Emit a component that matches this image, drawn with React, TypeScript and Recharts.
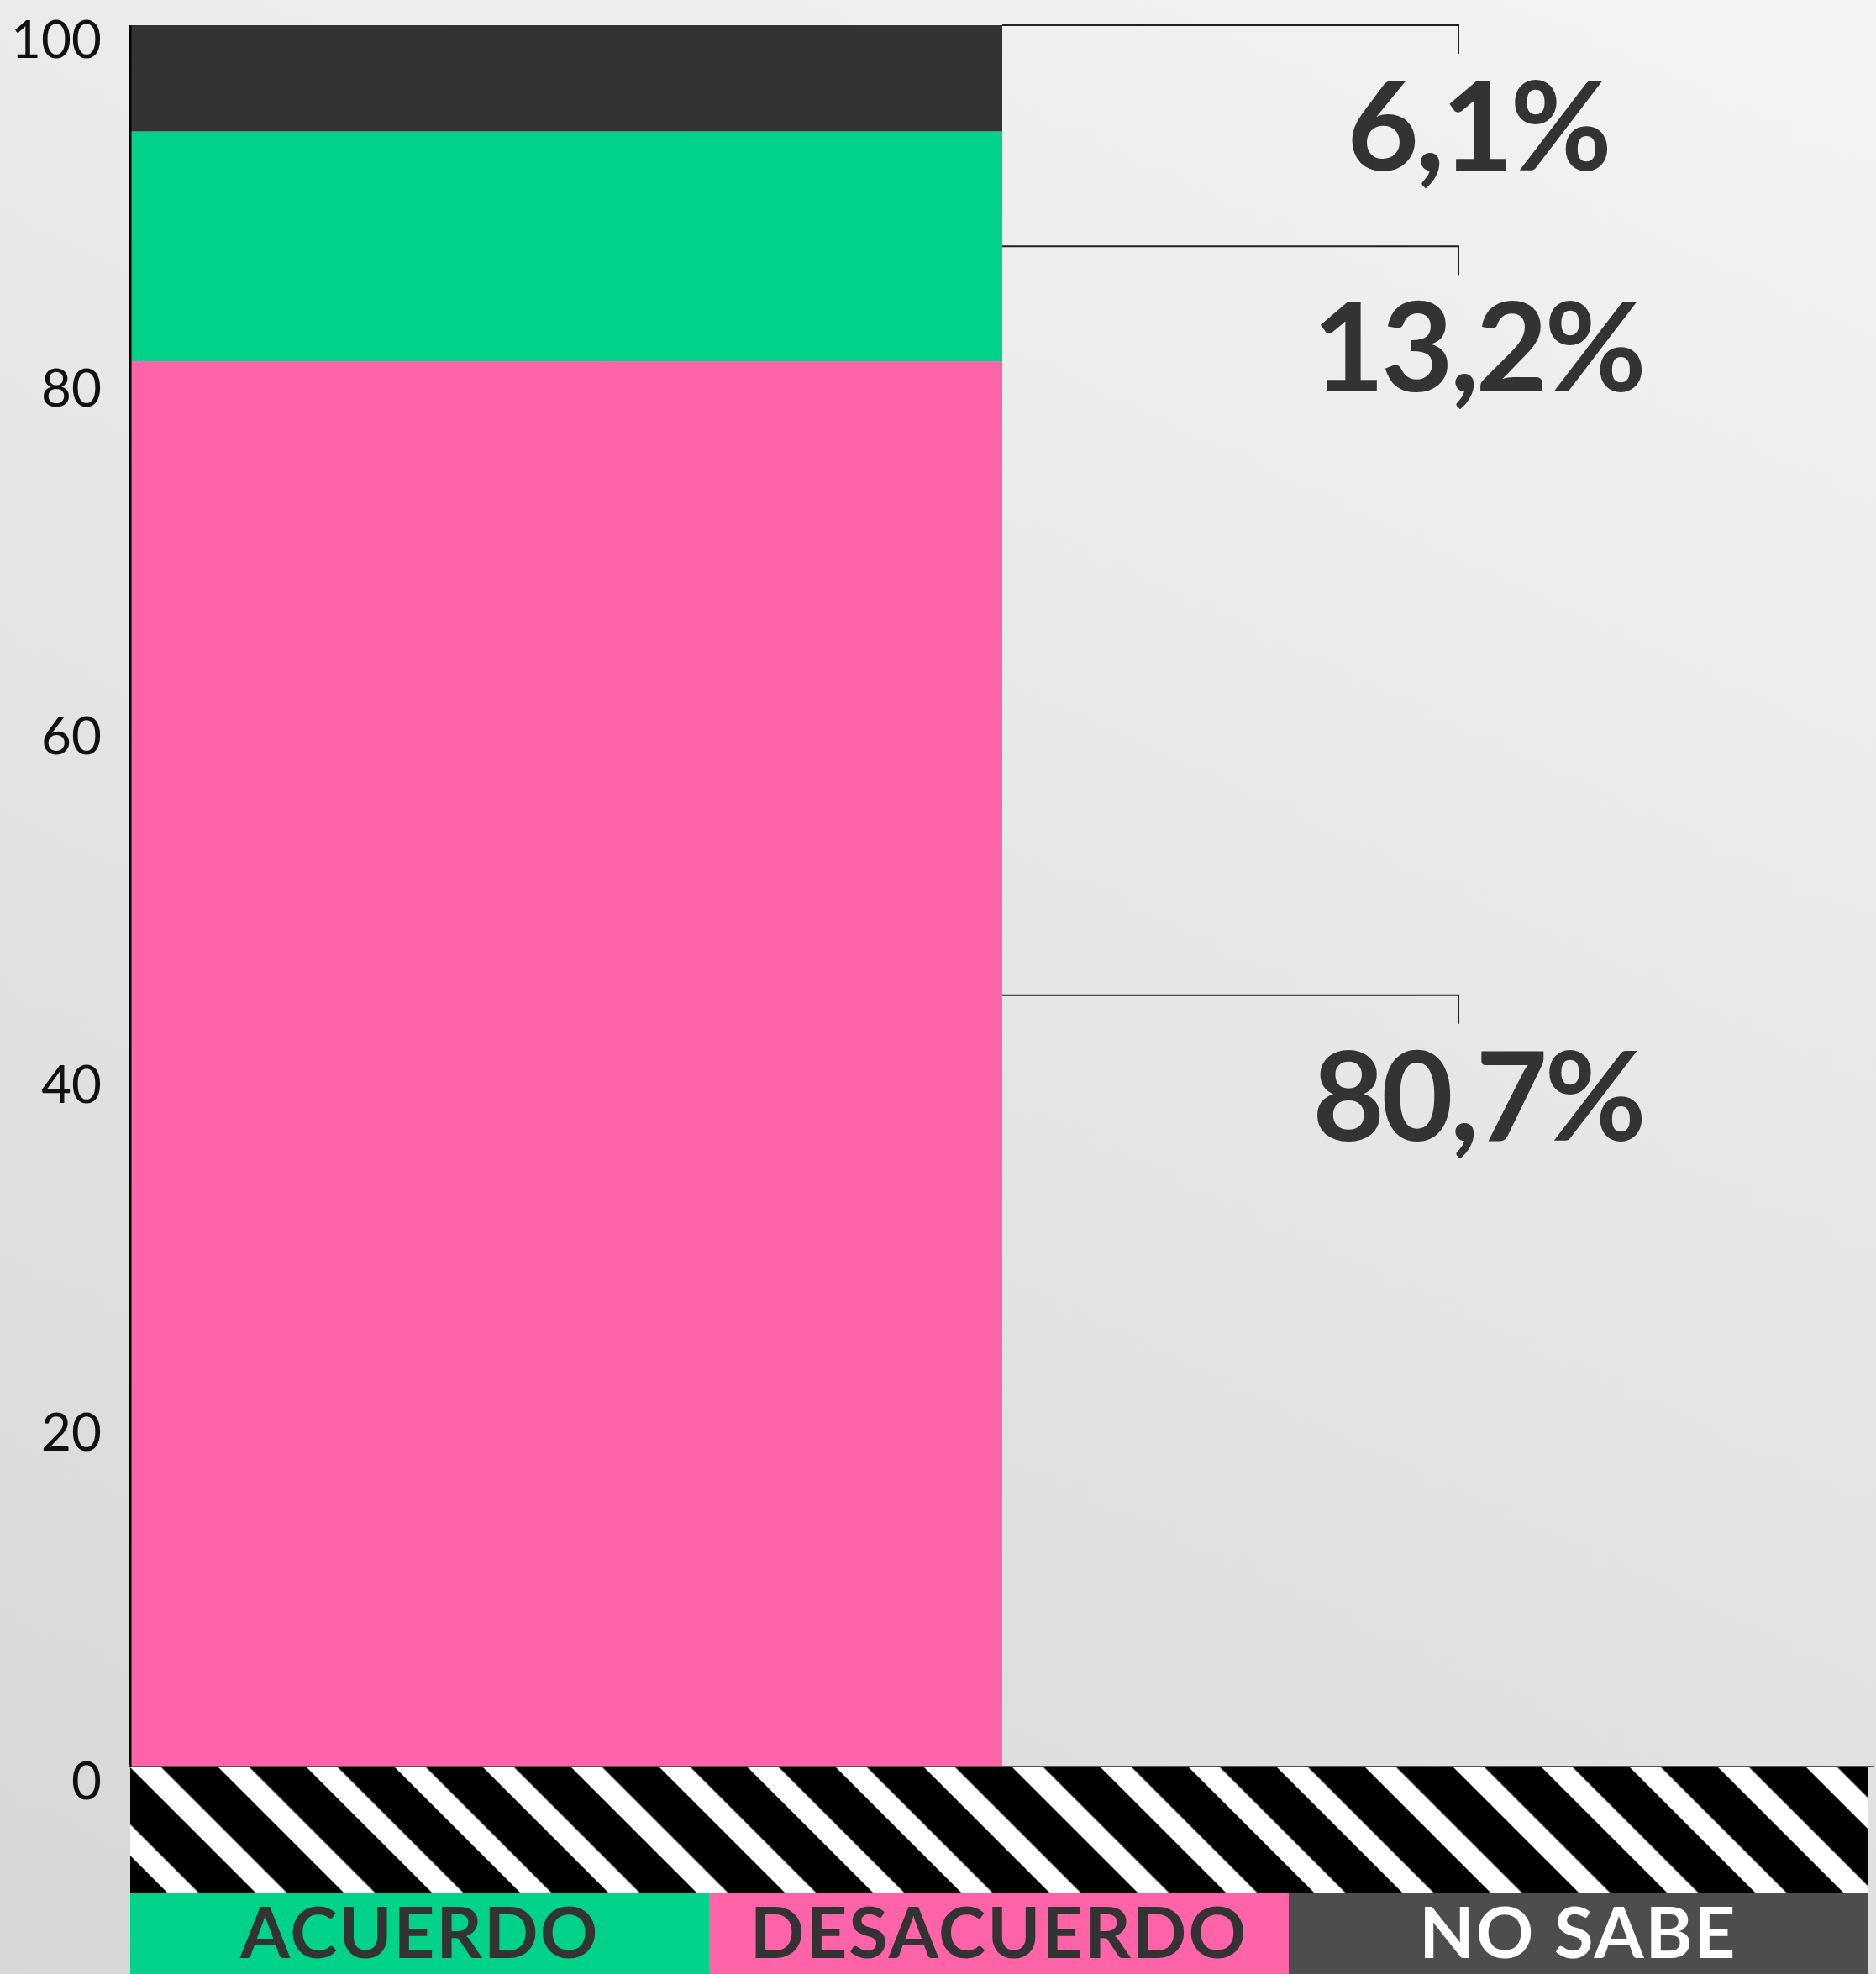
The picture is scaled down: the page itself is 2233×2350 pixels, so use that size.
import { BarChart, Bar, XAxis, YAxis, Legend, ReferenceLine } from 'recharts';

// survey answers, in legend order
const categories = ['ACUERDO', 'DESACUERDO', 'NO SABE'];
const values = [13.2, 80.7, 6.1];
const valueLabels = ['13,2%', '80,7%', '6,1%'];
// value (in %) where each callout's leader line leaves the bar
const labelAnchors = [87.3, 44.3, 100];
// bottom-to-top stacking order (indexes into categories)
const stackOrder = [1, 0, 2];
const yTicks = [0, 20, 40, 60, 80, 100];

const colors = ['#00d28a', '#ff63a8', '#333333'];
const legendColors = ['#00d28a', '#ff63a8', '#4d4d4d'];
const legendText = ['#333333', '#333333', '#ffffff'];

const W = 2233;
const H = 2350;
const FONT = 'Lato, "Open Sans", sans-serif';

const row: Record<string, string | number> = { name: 'total' };
categories.forEach((c, i) => {
  row[c] = values[i];
});
const data = [row, { name: 'blank' }];

function cumTop(cat: string) {
  let sum = 0;
  for (const i of stackOrder) {
    sum += values[i];
    if (categories[i] === cat) break;
  }
  return sum;
}

function makeShape(catIdx: number) {
  const cat = categories[catIdx];
  return (props: any) => {
    const { x, y, width, height, payload } = props;
    if (payload == null || payload[cat] == null || !height) return <g />;
    const v = values[catIdx];
    const perUnit = height / v;
    const ay = y + (cumTop(cat) - labelAnchors[catIdx]) * perUnit;
    const x0 = x + width;
    const x1 = x0 + 543;
    return (
      <g>
        <rect x={x} y={y} width={width} height={height} fill={colors[catIdx]} />
        <polyline
          points={`${x0},${ay} ${x1},${ay} ${x1},${ay + 34}`}
          fill="none"
          stroke="#222"
          strokeWidth={2}
        />
        <text
          x={x0 + 566}
          y={ay + 173}
          textAnchor="middle"
          fontFamily={FONT}
          fontWeight={700}
          fontSize={148}
          letterSpacing={-4}
          fill="#333"
        >
          {valueLabels[catIdx]}
        </text>
      </g>
    );
  };
}

const YTick = ({ x, y, payload }: any) => (
  <text
    x={x}
    y={y + 15}
    textAnchor="end"
    dominantBaseline="central"
    fontFamily={FONT}
    fontWeight={400}
    fontSize={62}
    fill="#111"
  >
    {payload.value}
  </text>
);

function StripeLegend() {
  return (
    <div style={{ width: 2068, height: 246 }}>
      <svg width={2068} height={149} style={{ display: 'block' }}>
        <defs>
          <pattern
            id="stripes"
            patternUnits="userSpaceOnUse"
            width={74.25}
            height={200}
            patternTransform="rotate(-45)"
          >
            <rect width={74.25} height={200} fill="#000" />
            <rect width={26.2} height={200} fill="#fff" />
          </pattern>
        </defs>
        <rect width={2068} height={149} fill="url(#stripes)" />
      </svg>
      <div style={{ display: 'flex', height: 97 }}>
        {categories.map((c, i) => (
          <div
            key={c}
            style={{
              flex: 1,
              height: 97,
              background: legendColors[i],
              color: legendText[i],
              fontFamily: FONT,
              fontWeight: 700,
              fontSize: 85,
              letterSpacing: 2,
              lineHeight: '90px',
              textAlign: 'center',
              whiteSpace: 'nowrap',
            }}
          >
            {c}
          </div>
        ))}
      </div>
    </div>
  );
}

export default function App() {
  return (
    <div
      style={{
        position: 'absolute',
        left: 0,
        top: 0,
        width: W,
        height: H,
        overflow: 'hidden',
        background: 'linear-gradient(25deg, #d7d7d7 0%, #e5e5e5 50%, #f4f4f4 100%)',
      }}
    >
      <BarChart
        width={W}
        height={H}
        data={data}
        margin={{ top: 30, right: 2, left: 0, bottom: 1 }}
        barCategoryGap={0}
      >
        <XAxis dataKey="name" hide />
        <YAxis
          type="number"
          domain={[0, 100]}
          ticks={yTicks}
          width={155}
          tickSize={0}
          tickMargin={34}
          tickLine={false}
          axisLine={{ stroke: '#000', strokeWidth: 3 }}
          tick={<YTick />}
        />
        <ReferenceLine y={0} stroke="#555" strokeWidth={2} />
        {stackOrder.map((i) => (
          <Bar
            key={categories[i]}
            dataKey={categories[i]}
            stackId="a"
            fill={colors[i]}
            shape={makeShape(i)}
            isAnimationActive={false}
          />
        ))}
        <Legend
          verticalAlign="bottom"
          content={() => <StripeLegend />}
          wrapperStyle={{ left: 155, bottom: 0, width: 2068, height: 246 }}
        />
      </BarChart>
    </div>
  );
}
